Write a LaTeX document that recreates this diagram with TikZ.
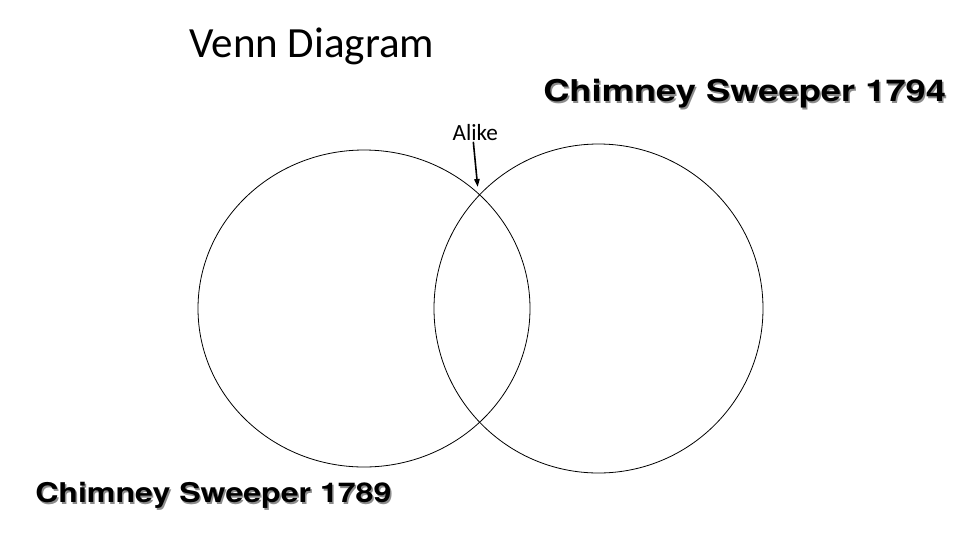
\documentclass[tikz,border=0pt]{standalone}
\usepackage{fontspec}
\newfontfamily\vennfont{Carlito}
\newfontfamily\sweepfont{TeX Gyre Heros}
\usetikzlibrary{arrows.meta, shapes.geometric}
\newcommand{\wide}[2]{\scalebox{#1}[1]{#2}}

\begin{document}
\begin{tikzpicture}[x=0.75pt, y=-0.75pt,
    lbl/.style={inner sep=0pt, anchor=base west},
    sweep/.style={lbl, font=\sweepfont\bfseries\fontsize{22.5}{27}\selectfont},
    shadow/.style={sweep, black!45},
    set/.style={draw, line width=0.6pt, inner sep=0pt}]
    \useasboundingbox (0,0) rectangle (960,540);

    \node[lbl, font=\vennfont\fontsize{32.3}{38}\selectfont] at (189,57) (title) {Venn Diagram};

    \node[set, ellipse, minimum width=249pt, minimum height=237.75pt] at (364,308.5) (left) {};
    \node[set, circle, minimum size=246.75pt] at (598.5,308.5) (right) {};

    \node[lbl, inner sep=1pt, font=\vennfont\fontsize{17.4}{20}\selectfont] at (451,140) (alike) {Alike};
    \coordinate (cross) at (477.7,187);
    \draw [line width=1.2pt, -{Triangle[length=6pt,width=4pt]}] ([xshift=-1.5pt]alike.south) -- (cross);

    % shadows first, then the black text on top
    \node[shadow] at (544.5,103.7) {\wide{1.21}{Chimney Sweeper 1794}};
    \node[sweep] at (543,101.7) (cs1794) {\wide{1.21}{Chimney Sweeper 1794}};
    \node[shadow, font=\sweepfont\bfseries\fontsize{20.4}{25}\selectfont] at (36.5,504.7) {\wide{1.18}{Chimney Sweeper 1789}};
    \node[sweep, font=\sweepfont\bfseries\fontsize{20.4}{25}\selectfont] at (35,502.7) (cs1789) {\wide{1.18}{Chimney Sweeper 1789}};
\end{tikzpicture}
\end{document}
